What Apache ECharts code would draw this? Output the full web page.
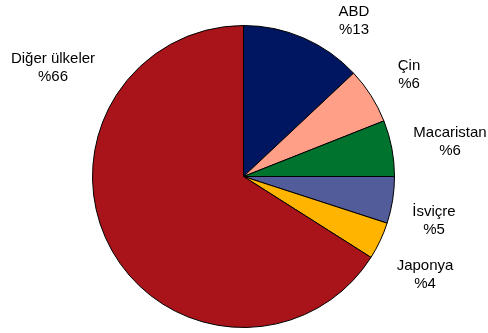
<!DOCTYPE html>
<html><head><meta charset="utf-8">
<script src="https://cdn.jsdelivr.net/npm/echarts@6/dist/echarts.min.js"></script>
<style>html,body{margin:0;padding:0;background:#fff}#c{width:488px;height:333px}</style>
</head><body><div id="c"></div>
<script>
var categories = ['ABD', 'Çin', 'Macaristan', 'İsviçre', 'Japonya', 'Diğer ülkeler'];
var values = [13, 6, 6, 5, 4, 66];
var colors = ['#001660', '#ff9f88', '#00732e', '#525c9a', '#ffb400', '#a81419'];
var labelPos = [[354, 21], [409, 75], [450, 142], [434, 221], [425, 275], [53, 68]];

var chart = echarts.init(document.getElementById('c'), null, {renderer: 'canvas'});
chart.setOption({
  animation: false,
  series: [{
    type: 'pie',
    center: [243.5, 176.5],
    radius: 151,
    startAngle: 90,
    clockwise: true,
    data: categories.map(function (n, i) {
      return {name: n, value: values[i], itemStyle: {color: colors[i]}};
    }),
    itemStyle: {borderColor: '#000', borderWidth: 1},
    label: {
      show: true,
      position: 'outside',
      alignTo: 'none',
      overflow: 'none',
      width: 200,
      formatter: function (p) { return p.name + '\n%' + p.value; },
      fontFamily: 'Liberation Sans, Arial, sans-serif',
      fontSize: 15,
      lineHeight: 18,
      color: '#000',
      align: 'center'
    },
    labelLine: {show: false},
    labelLayout: function (p) {
      var pos = labelPos[p.dataIndex];
      return {x: pos[0], y: pos[1], align: 'center', verticalAlign: 'middle'};
    },
    emphasis: {disabled: true}
  }]
});
</script></body></html>
